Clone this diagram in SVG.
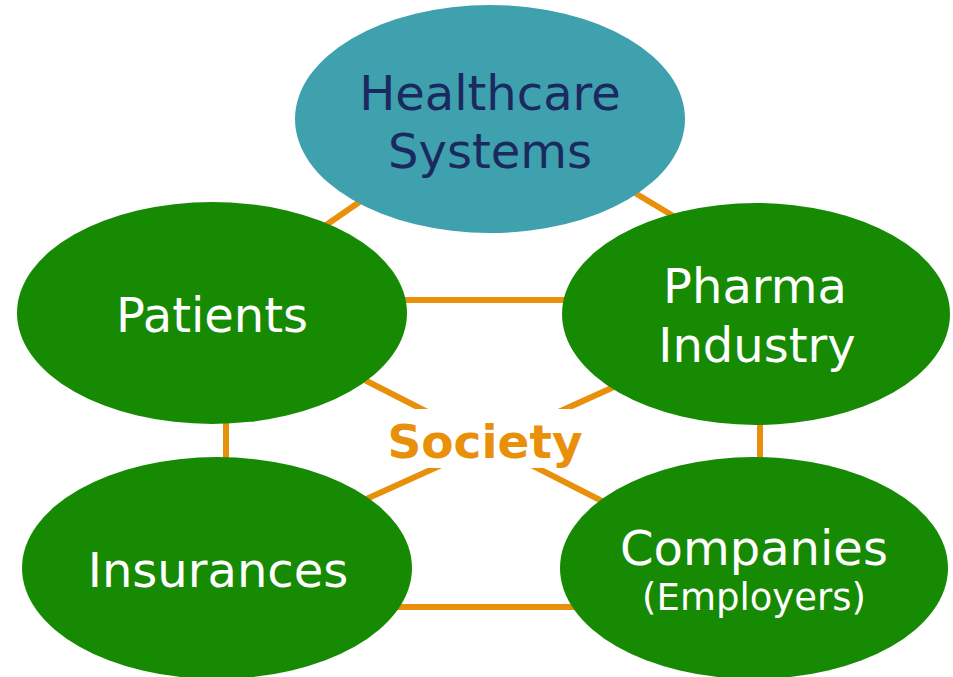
<svg xmlns="http://www.w3.org/2000/svg" width="953" height="677" viewBox="0 0 953 677">
<style>
.c{stroke:#E8900A;stroke-width:6;fill:none}
.g{fill:#178A03}
.t{font-family:"DejaVu Sans","Verdana",sans-serif;font-size:48px;fill:#fff;text-anchor:middle}
.h{fill:#1B2A5E}
.s{font-family:"DejaVu Sans","Verdana",sans-serif;font-size:47px;font-weight:bold;fill:#E8900A;text-anchor:middle}
</style>
<rect width="953" height="677" fill="#fff"/>
<g id="connectors">
<line class="c" x1="300" y1="243" x2="400" y2="174"/>
<line class="c" x1="600" y1="172" x2="720" y2="244"/>
<line class="c" x1="380" y1="300" x2="590" y2="300"/>
<line class="c" x1="226" y1="400" x2="226" y2="480"/>
<line class="c" x1="760" y1="400" x2="760" y2="480"/>
<line class="c" x1="380" y1="607" x2="590" y2="607"/>
<line class="c" x1="300" y1="347" x2="700" y2="551"/>
<line class="c" x1="700" y1="348" x2="300" y2="529"/>
<rect x="400" y="409" width="200" height="59" fill="#fff"/>
</g>
<g id="society"><text class="s" x="485" y="458">Society</text></g>
<g id="healthcare"><ellipse cx="490" cy="119" rx="195" ry="114" fill="#3FA0AE"/>
<text class="t h" x="490" y="110">Healthcare</text><text class="t h" x="490" y="168">Systems</text></g>
<g id="patients"><ellipse class="g" cx="212" cy="313" rx="195" ry="111"/>
<text class="t" x="212" y="332">Patients</text></g>
<g id="pharma"><ellipse class="g" cx="756" cy="314" rx="194" ry="111"/>
<text class="t" x="755" y="303">Pharma</text><text class="t" x="757" y="362">Industry</text></g>
<g id="insurances"><ellipse class="g" cx="217" cy="568" rx="195" ry="111"/>
<text class="t" x="218" y="587">Insurances</text></g>
<g id="companies"><ellipse class="g" cx="754" cy="568" rx="194" ry="111"/>
<text class="t" x="754" y="565">Companies</text><text class="t" x="754" y="610" style="font-size:37px">(Employers)</text></g>
</svg>
